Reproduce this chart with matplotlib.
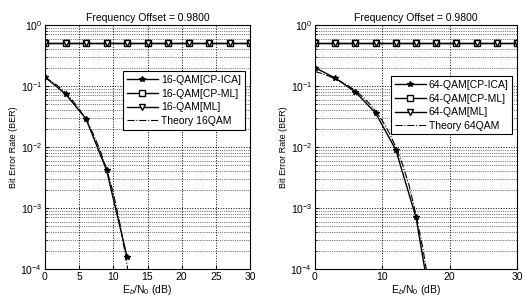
import matplotlib
matplotlib.use("Agg")
import matplotlib.pyplot as plt
from matplotlib.ticker import LogLocator, NullFormatter

plt.rcParams['font.family'] = ['Liberation Sans', 'DejaVu Sans']
plt.rcParams['mathtext.fontset'] = 'custom'
plt.rcParams['mathtext.rm'] = 'Liberation Sans'
plt.rcParams['mathtext.it'] = 'Liberation Sans:italic'

# ---- data ----
title_text = "Frequency Offset = 0.9800"
ylabel_text = "Bit Error Rate (BER)"
xlabel_text = r"E$_b$/N$_0$ (dB)"

flat_x = [0, 3, 6, 9, 12, 15, 18, 21, 24, 27, 30]
flat_cpml = [0.5, 0.5, 0.5, 0.5, 0.5, 0.5, 0.5, 0.5, 0.5, 0.5, 0.5]
flat_ml = [0.5, 0.5, 0.5, 0.5, 0.5, 0.5, 0.5, 0.5, 0.5, 0.5, 0.5]

# 16-QAM panel
ica16_x = [0, 3, 6, 9, 12]
ica16_y = [0.14, 0.074, 0.029, 0.0042, 0.00016]
theory16_x = [0, 1, 2, 3, 4, 5, 6, 7, 8, 9, 10, 11, 12, 13]
theory16_y = [0.139, 0.118, 0.098, 0.0776, 0.0585, 0.0421, 0.0282, 0.0170,
              0.0092, 0.0044, 0.00176, 0.00053, 0.000119, 0.000019]
labels16 = ["16-QAM[CP-ICA]", "16-QAM[CP-ML]", "16-QAM[ML]", "Theory 16QAM"]
xticks16 = [0, 5, 10, 15, 20, 25, 30]

# 64-QAM panel
ica64_x = [0, 3, 6, 9, 12, 15, 18]
ica64_y = [0.2, 0.135, 0.08, 0.036, 0.009, 0.0007, 0.000008]
theory64_x = [0, 1, 2, 3, 4, 5, 6, 7, 8, 9, 10, 11, 12, 13, 14, 15, 16, 17, 18]
theory64_y = [0.173, 0.160, 0.146, 0.131, 0.116, 0.0998, 0.0837, 0.0677, 0.0525,
              0.0388, 0.0270, 0.0173, 0.0100, 0.0052, 0.00229, 0.00077,
              0.000224, 0.000047, 0.0000064]
labels64 = ["64-QAM[CP-ICA]", "64-QAM[CP-ML]", "64-QAM[ML]", "Theory 64QAM"]
xticks64 = [0, 10, 20, 30]

fig = plt.figure(figsize=(5.27, 3.03), dpi=100)
fs = 7.5

def panel(rect, ica_x, ica_y, th_x, th_y, labels, xticks, leg_bbox):
    ax = fig.add_axes(rect)
    ax.semilogy(ica_x, ica_y, '-', color='k', marker='*', ms=4, lw=1.0, label=labels[0])
    ax.semilogy(flat_x, flat_cpml, '-', color='k', marker='s', ms=5, mfc='white', lw=1.0, label=labels[1])
    ax.semilogy(flat_x, flat_ml, '-', color='k', marker='v', ms=5, mfc='white', lw=1.0, label=labels[2])
    ax.semilogy(th_x, th_y, '-.', color='k', lw=0.8, label=labels[3])
    ax.set_xlim(0, 30)
    ax.set_ylim(1e-4, 1)
    ax.set_xticks(xticks)
    ax.yaxis.set_major_locator(LogLocator(base=10, numticks=10))
    ax.yaxis.set_minor_locator(LogLocator(base=10, subs=range(2, 10), numticks=10))
    ax.yaxis.set_minor_formatter(NullFormatter())
    ax.grid(True, which='major', linestyle=':', color='k', lw=0.7)
    ax.grid(True, which='minor', axis='y', linestyle=':', color='k', lw=0.5)
    ax.tick_params(labelsize=fs, direction='in', length=3, which='major', pad=2)
    ax.tick_params(direction='in', length=1.5, which='minor')
    ax.set_title(title_text, fontsize=fs, pad=3)
    ax.set_ylabel(ylabel_text, fontsize=fs - 1, labelpad=2)
    ax.set_xlabel(xlabel_text, fontsize=fs, labelpad=1)
    for s in ax.spines.values():
        s.set_linewidth(0.8)
    leg = ax.legend(loc='upper left', bbox_to_anchor=leg_bbox, fontsize=fs,
                    frameon=True, fancybox=False, edgecolor='k', framealpha=1,
                    handlelength=3.0, borderpad=0.35, labelspacing=0.35, handletextpad=0.3,
                    borderaxespad=0)
    leg.get_frame().set_linewidth(0.8)
    return ax

panel([45/527, 1 - 269/303, 205/527, 244/303], ica16_x, ica16_y, theory16_x, theory16_y,
      labels16, xticks16, (0.38, 0.81))
panel([315/527, 1 - 269/303, 202/527, 244/303], ica64_x, ica64_y, theory64_x, theory64_y,
      labels64, xticks64, (0.376, 0.79))

fig.savefig("out.png", dpi=100)
